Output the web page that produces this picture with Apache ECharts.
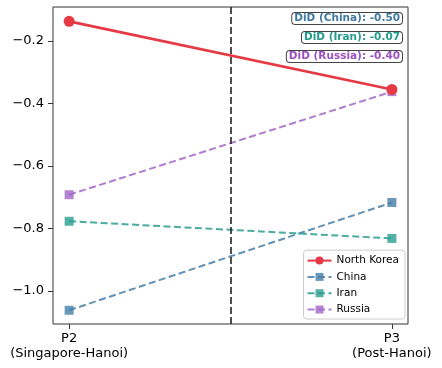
<!DOCTYPE html>
<html>
<head>
<meta charset="utf-8">
<script src="https://cdn.jsdelivr.net/npm/echarts@6/dist/echarts.min.js"></script>
<style>
  html, body { margin: 0; padding: 0; background: #fff; }
  #chart { width: 442px; height: 368px; }
</style>
</head>
<body>
<div id="chart"></div>
<script>
// periods on a 0..1 value axis
const periods = [0, 1];
const periodLabels = ['P2\n(Singapore-Hanoi)', 'P3\n(Post-Hanoi)'];
const yTicks = [-1.0, -0.8, -0.6, -0.4, -0.2];

const northKorea = [-0.137, -0.355];
const china = [-1.062, -0.717];
const iran = [-0.777, -0.832];
const russia = [-0.692, -0.362];

const didLabels = ['DiD (China): -0.50', 'DiD (Iran): -0.07', 'DiD (Russia): -0.40'];
const didColors = ['#3f78a0', '#229d8c', '#9b4fc0'];

const font = 'DejaVu Sans';

const pts = arr => periods.map((p, i) => [p, arr[i]]);

const dashedSeries = (name, data, color) => ({
    name,
    type: 'line',
    data: pts(data),
    symbol: 'rect',
    symbolSize: 9,
    itemStyle: { color, opacity: 0.8 },
    lineStyle: { color, width: 2, type: [7, 3.5], opacity: 0.85 },
    z: 3,
});

const chart = echarts.init(document.getElementById('chart'));

chart.setOption({
    animation: false,
    grid: {
        left: 53, right: 34, top: 7, bottom: 44,
        show: true, borderColor: '#333', borderWidth: 1,
    },
    xAxis: {
        type: 'value',
        min: -0.05,
        max: 1.05,
        splitLine: { show: false },
        axisLine: { show: false, onZero: false },
        axisTick: { show: true, customValues: periods, length: 5, lineStyle: { color: '#333' } },
        axisLabel: {
            customValues: periods,
            formatter: v => periodLabels[Math.round(v)],
            color: '#000',
            fontFamily: font,
            fontSize: 13,
            lineHeight: 15,
            margin: 7,
        },
    },
    yAxis: {
        type: 'value',
        min: -1.106,
        max: -0.091,
        splitLine: { show: false },
        axisLine: { show: false, onZero: false },
        axisTick: { show: true, customValues: yTicks, length: 5, lineStyle: { color: '#333' } },
        axisLabel: {
            customValues: yTicks,
            formatter: v => v.toFixed(1).replace('-', '\u2212'),
            color: '#000',
            fontFamily: font,
            fontSize: 13,
            margin: 9,
        },
    },
    legend: {
        orient: 'vertical',
        right: 37,
        bottom: 49,
        itemWidth: 24,
        itemHeight: 10,
        itemGap: 5.3,
        padding: [5, 6, 4, 3],
        backgroundColor: '#fff',
        borderColor: '#ccc',
        borderWidth: 1,
        borderRadius: 3,
        textStyle: { fontFamily: font, fontSize: 10.5, color: '#000' },
        data: ['North Korea', 'China', 'Iran', 'Russia'],
    },
    series: [
        {
            name: 'North Korea',
            type: 'line',
            data: pts(northKorea),
            symbol: 'circle',
            symbolSize: 11,
            itemStyle: { color: '#e63946' },
            lineStyle: { color: '#e63946', width: 2.6 },
            z: 5,
            markLine: {
                silent: true,
                symbol: 'none',
                label: { show: false },
                lineStyle: { color: '#222', type: [7, 3], width: 1.6 },
                data: [{ xAxis: 0.5 }],
            },
        },
        dashedSeries('China', china, '#457ea8'),
        dashedSeries('Iran', iran, '#2a9d8f'),
        dashedSeries('Russia', russia, '#a366c9'),
    ],
    graphic: didLabels.map((t, i) => ({
        type: 'text',
        right: 39,
        top: 12 + i * 19,
        z: 10,
        style: {
            text: t,
            fontFamily: font,
            fontWeight: 'bold',
            fontSize: 10.5,
            fill: didColors[i],
            backgroundColor: '#fff',
            borderColor: '#444',
            borderWidth: 1,
            borderRadius: 3,
            padding: [0, 2, 0, 2],
        },
    })),
});
</script>
</body>
</html>
